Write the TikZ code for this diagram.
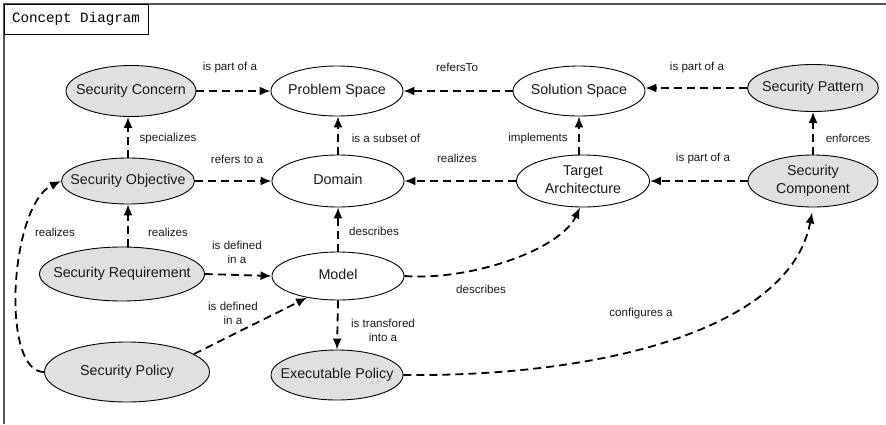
\documentclass[tikz,border=0pt]{standalone}
\usepackage{fontspec}
\setmainfont{Liberation Sans}
\newfontfamily\titlemono{Liberation Mono}
\usetikzlibrary{shapes.geometric,arrows.meta}

\definecolor{conceptgray}{HTML}{E0E0E0}
\definecolor{framegray}{HTML}{555555}
\definecolor{inkcol}{HTML}{1A1A1A}

\newcommand\conceptfont{\fontsize{14.3}{18}\selectfont}
\newcommand\relationfont{\fontsize{11.6}{14}\selectfont}
% zero-width text box, so the ellipse takes exactly its minimum size
\newcommand\conceptlabel[1]{\makebox[0pt]{\begin{tabular}{@{}c@{}}#1\end{tabular}}}

\tikzset{
  concept/.style={ellipse, draw=black, line width=0.9pt, inner sep=0pt,
    font=\conceptfont, text=inkcol},
  secure/.style={concept, fill=conceptgray},
  plain/.style={concept, fill=white},
  rel/.style={-{Latex[length=11pt,width=9pt]}, line width=1.8pt,
    dash pattern=on 8pt off 5pt},
  lbl/.style={font=\relationfont, align=center, inner sep=0pt, text=inkcol},
}

\begin{document}
\begin{tikzpicture}[x=1pt,y=-1pt]
  \useasboundingbox (0,0) rectangle (886,424);

  % diagram frame and its title tab
  \draw[framegray, line width=1.2pt] (4,424) -- (4,4) -- (886,4);
  \draw[black, line width=1pt] (4,4) rectangle (148,34);
  \node[font=\titlemono\fontsize{14.2}{16}\selectfont, inner sep=0pt] (title) at (76,19) {Concept Diagram};

  % concepts
  \node[secure, minimum width=130pt, minimum height=51pt] (SC)   at (131,91) {\conceptlabel{Security Concern}};
  \node[plain,  minimum width=132pt, minimum height=50pt] (PS)   at (337,91) {\conceptlabel{Problem Space}};
  \node[plain,  minimum width=132pt, minimum height=50pt] (SolS) at (579,91) {\conceptlabel{Solution Space}};
  \node[secure, minimum width=131pt, minimum height=47pt] (SPat) at (813,88) {\conceptlabel{Security Pattern}};

  \node[secure, minimum width=133pt, minimum height=46pt] (SObj) at (128,181)  {\conceptlabel{Security Objective}};
  \node[plain,  minimum width=132pt, minimum height=52pt] (Dom)  at (338,181)  {\conceptlabel{Domain}};
  \node[plain,  minimum width=133pt, minimum height=52pt] (TA)   at (583,181)  {\conceptlabel{Target\\Architecture}};
  \node[secure, minimum width=130pt, minimum height=52pt] (SComp) at (813,181) {\conceptlabel{Security\\Component}};

  \node[secure, minimum width=165pt, minimum height=54pt] (SReq) at (122,274)  {\conceptlabel{Security Requirement}};
  \node[plain,  minimum width=132pt, minimum height=48pt] (Model) at (338,276) {\conceptlabel{Model}};

  \node[secure, minimum width=165pt, minimum height=60pt] (SPol) at (127,372)  {\conceptlabel{Security Policy}};
  \node[secure, minimum width=132pt, minimum height=50pt] (EPol) at (337,375)  {\conceptlabel{Executable Policy}};

  % relations along the top row
  \draw[rel] (SC.east) -- (PS.west);
  \node[lbl] (l1) at (230,67) {is part of a};
  \draw[rel] (SolS.west) -- (PS.east);
  \node[lbl] (l2) at (457,67) {refersTo};
  \draw[rel] (SPat.west) -- (SolS.east |- SPat.west);
  \node[lbl] (l3) at (697,67) {is part of a};

  % relations into the top row
  \draw[rel] (SObj.north) -- (SObj.north |- SC.south);
  \node[lbl] (l4) at (168,138) {specializes};
  \draw[rel] (Dom.north) -- (Dom.north |- PS.south);
  \node[lbl] (l5) at (386,138) {is a subset of};
  \draw[rel] ([xshift=-4pt]TA.north) -- ([xshift=-4pt]TA.north |- SolS.south);
  \node[lbl] (l6) at (538,138) {implements};
  \draw[rel] (SComp.north) -- (SComp.north |- SPat.south);
  \node[lbl] (l7) at (848,138) {enforces};

  % relations along the middle row
  \draw[rel] (SObj.east) -- (Dom.west);
  \node[lbl] (l8) at (237,159) {refers to a};
  \draw[rel] (TA.west) -- (Dom.east);
  \node[lbl] (l9) at (457,158) {realizes};
  \draw[rel] (SComp.west) -- (TA.east);
  \node[lbl] (l10) at (703,158) {is part of a};

  % relations from the lower rows
  \draw[rel] (SReq.north -| SObj.north) -- (SObj.south);
  \node[lbl] (l11) at (168,232) {realizes};
  \draw[rel] (SPol.west) .. controls (0,372) and (10,205) .. (SObj.west);
  \node[lbl] (l12) at (55,232) {realizes};
  \draw[rel] (SReq.east) -- (Model.west);
  \node[lbl] (l13) at (237,252) {is defined\\in a};
  \draw[rel] (Model.north) -- (Dom.south);
  \node[lbl] (l14) at (374,231) {describes};
  \draw[rel] (Model.east) .. controls (470,281) and (560,250) .. ([xshift=-3pt]TA.south);
  \node[lbl] (l15) at (481,289) {describes};
  \draw[rel] (SPol.15) -- (Model.215);
  \node[lbl] (l16) at (233,313) {is defined\\in a};
  \draw[rel] (Model.south) -- (EPol.north);
  \node[lbl] (l17) at (383,330) {is transfored\\into a};
  \draw[rel, shorten >=5pt] (EPol.east) .. controls (600,377) and (790,330) .. (SComp.south);
  \node[lbl] (l18) at (641,313) {configures a};
\end{tikzpicture}
\end{document}
